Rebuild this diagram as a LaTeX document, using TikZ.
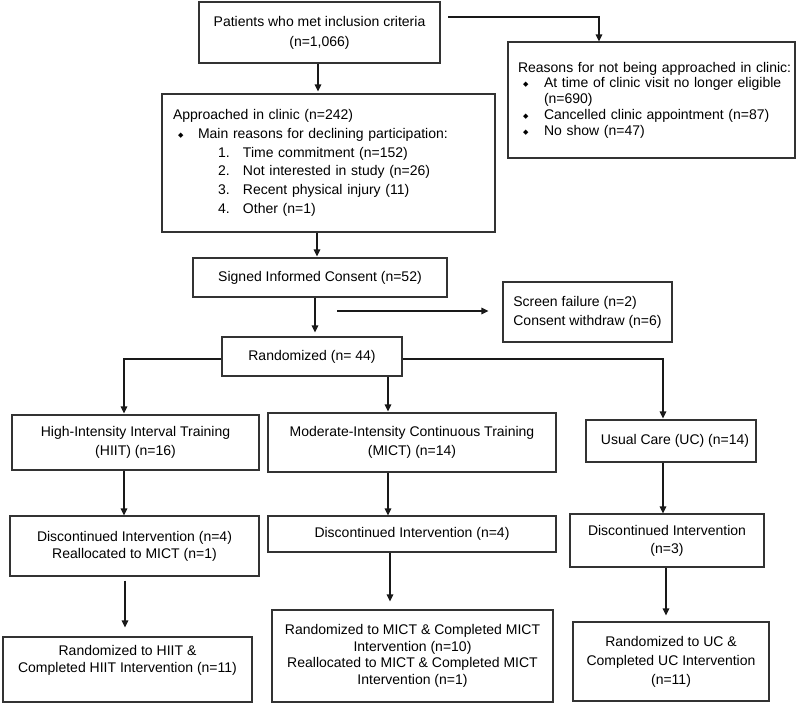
\documentclass[tikz,border=0pt]{standalone}
\usepackage{fontspec}
\setmainfont{Liberation Sans}
\newfontfamily\djv{DejaVu Sans}
\usetikzlibrary{arrows.meta,calc}
\newcommand{\dia}{\raisebox{1.2pt}{\djv\fontsize{7}{7}\selectfont ◆}}
\tikzset{
  box/.style={draw=black!80, line width=1.1pt, inner sep=0pt, align=center,
    font=\fontsize{14}{18}\selectfont},
  arr/.style={line width=1.1pt, draw=black!90, -{Triangle[length=7pt,width=6.5pt]}},
}
\begin{document}
\begin{tikzpicture}[x=1pt,y=-1pt]
\useasboundingbox (0,0) rectangle (800,704);
\fill[white] (0,0) rectangle (800,704);

\node[box, minimum width=241pt, minimum height=61pt, font=\fontsize{14}{20}\selectfont] (b1) at (319.5,32.5)
  {Patients who met inclusion criteria\\(n=1,066)};

\node[box, align=left, text width=267pt, inner xsep=10pt, minimum width=287pt, minimum height=116pt, font=\fontsize{14}{15.8}\selectfont] (b2) at (651.5,100)
  {\mbox{Reasons for not being approached in clinic:}\\
   \mbox{\makebox[26pt][l]{\hspace*{5pt}\dia}At time of clinic visit no longer eligible}\\
   \hspace*{26pt}(n=690)\\
   \mbox{\makebox[26pt][l]{\hspace*{5pt}\dia}Cancelled clinic appointment (n=87)}\\
   \mbox{\makebox[26pt][l]{\hspace*{5pt}\dia}No show (n=47)}\\[3pt]};

\node[box, align=left, text width=311pt, inner xsep=11pt, minimum width=333pt, minimum height=138pt, font=\fontsize{14}{18.7}\selectfont] (b3) at (328.5,163)
  {Approached in clinic (n=242)\\
   \makebox[25pt][l]{\hspace*{5pt}\dia}Main reasons for declining participation:\\
   \hspace*{45pt}\makebox[25pt][l]{1.}Time commitment (n=152)\\
   \hspace*{45pt}\makebox[25pt][l]{2.}Not interested in study (n=26)\\
   \hspace*{45pt}\makebox[25pt][l]{3.}Recent physical injury (11)\\
   \hspace*{45pt}\makebox[25pt][l]{4.}Other (n=1)\\[3pt]};

\node[box, minimum width=254pt, minimum height=39pt] (b4) at (320,277.5)
  {Signed Informed Consent (n=52)};

\node[box, minimum width=180pt, minimum height=39pt] (rand) at (312,356.5)
  {Randomized (n= 44)};

\node[box, align=left, minimum width=169pt, minimum height=60pt, font=\fontsize{14}{19}\selectfont] (sf) at (587.5,312)
  {Screen failure (n=2)\\Consent withdraw (n=6)};

\node[box, minimum width=247pt, minimum height=55pt, font=\fontsize{14}{19}\selectfont] (hiit) at (135.5,442.5)
  {High-Intensity Interval Training\\(HIIT) (n=16)};
\node[box, minimum width=288pt, minimum height=59pt, font=\fontsize{14}{19}\selectfont] (mict) at (412,442.5)
  {Moderate-Intensity Continuous Training\\(MICT) (n=14)};
\node[box, minimum width=170pt, minimum height=42pt] (uc) at (671,441)
  {\hspace*{8pt}Usual Care (UC) (n=14)};

\node[box, minimum width=249pt, minimum height=60pt, font=\fontsize{14}{17}\selectfont] (hd) at (134.5,546)
  {Discontinued Intervention (n=4)\\Reallocated to MICT (n=1)};
\node[box, minimum width=288pt, minimum height=36pt] (md) at (412,534)
  {Discontinued Intervention (n=4)};
\node[box, minimum width=194pt, minimum height=53pt, font=\fontsize{14}{18}\selectfont] (ud) at (667,540.5)
  {Discontinued Intervention\\(n=3)};

\node[box, minimum width=249pt, minimum height=65pt, font=\fontsize{14}{17}\selectfont] (hf) at (127.5,669.5)
  {Randomized to HIIT \&\\Completed HIIT Intervention (n=11)\\[4pt]};
\node[box, minimum width=281pt, minimum height=92pt, font=\fontsize{14}{16.5}\selectfont] (mf) at (412.5,656)
  {Randomized to MICT \& Completed MICT\\Intervention (n=10)\\Reallocated to MICT \& Completed MICT\\Intervention (n=1)};
\node[box, minimum width=196pt, minimum height=79pt, font=\fontsize{14}{19}\selectfont] (uf) at (671,661.5)
  {Randomized to UC \&\\Completed UC Intervention\\(n=11)};

% connectors
\coordinate (c1) at (448,17);
\coordinate (c2) at (337,311);
\draw[arr, shorten >=2pt] ([xshift=-1.5pt]b1.south) -- ([xshift=-1.5pt]b1.south |- b3.north);
\draw[arr] (c1) -| ([xshift=-52.5pt]b2.north);
\draw[arr, shorten >=1pt] ([xshift=-3pt]b4.north |- b3.south) -- ([xshift=-3pt]b4.north);
\draw[arr, shorten >=4pt] ([xshift=3pt]rand.north |- b4.south) -- ([xshift=3pt]rand.north);
\draw[arr] (c2) -- ([xshift=-14pt]sf.west |- c2);

\draw[arr, shorten >=1pt] ([yshift=-2.5pt]rand.west) -| ([xshift=-11.5pt]hiit.north);
\draw[arr, shorten >=1pt] ([yshift=-2.5pt]rand.east) -| ([xshift=-8pt]uc.north);
\draw[arr, shorten >=1pt] ([xshift=76pt]rand.south) -- ([xshift=76pt]rand.south |- mict.north);

\draw[arr] ([xshift=-11.5pt]hiit.south) -- ([xshift=-11.5pt]hiit.south |- hd.north);
\draw[arr] ([xshift=-24pt]mict.south) -- ([xshift=-24pt]mict.south |- md.north);
\draw[arr] ([xshift=-8pt]uc.south) -- ([xshift=-8pt]uc.south |- ud.north);

\draw[arr, shorten <=4pt, shorten >=9pt] ([xshift=-9.5pt]hd.south) -- ([xshift=-9.5pt]hd.south |- hf.north);
\draw[arr, shorten >=8pt] ([xshift=-22pt]md.south) -- ([xshift=-22pt]md.south |- mf.north);
\draw[arr, shorten >=6pt] ([xshift=-1pt]ud.south) -- ([xshift=-1pt]ud.south |- uf.north);
\end{tikzpicture}
\end{document}
